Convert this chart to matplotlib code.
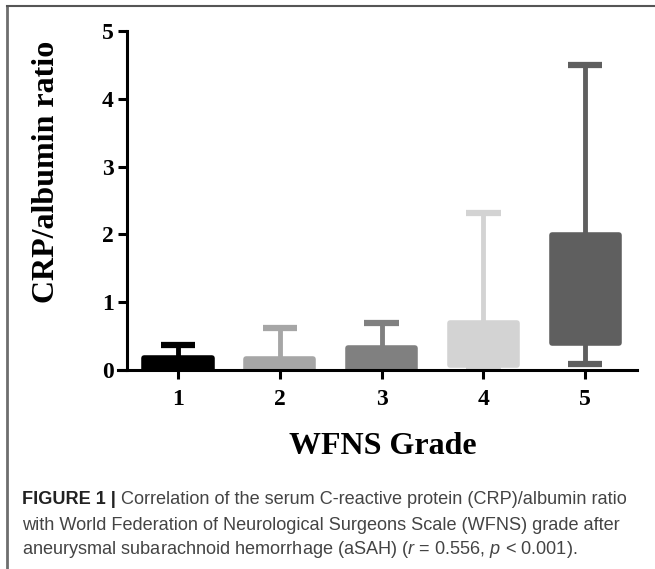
import matplotlib
matplotlib.use("Agg")
import matplotlib.pyplot as plt
from matplotlib.lines import Line2D

# values
grades = [1, 2, 3, 4, 5]
whisker_low = [0.0, 0.0, 0.0, 0.02, 0.09]
q1 = [0.02, 0.01, 0.01, 0.07, 0.40]
median = [0.08, 0.06, 0.12, 0.25, 0.95]
q3 = [0.17, 0.16, 0.32, 0.69, 1.99]
whisker_high = [0.37, 0.62, 0.69, 2.31, 4.50]
colors = ['#000000', '#a6a6a6', '#808080', '#d3d3d3', '#5f5f5f']

plt.rcParams['mathtext.fontset'] = 'custom'
plt.rcParams['mathtext.it'] = 'Liberation Sans:italic'
plt.rcParams['mathtext.rm'] = 'Liberation Sans'

fig = plt.figure(figsize=(6.55, 5.69), dpi=100)
ax = fig.add_axes([118/655, 1-370/569, 519/655, 339/569])

stats = []
for i in range(len(grades)):
	stats.append({'whislo': whisker_low[i], 'q1': q1[i], 'med': median[i],
				  'q3': q3[i], 'whishi': whisker_high[i], 'label': str(grades[i])})

bp = ax.bxp(stats, positions=grades, widths=0.66, capwidths=0.34,
			showfliers=False, patch_artist=True)
for i, c in enumerate(colors):
	box = bp['boxes'][i]
	box.set_facecolor(c)
	box.set_edgecolor(c)
	box.set_linewidth(4)
	box.set_joinstyle('round')
	bp['medians'][i].set_color(c)
	bp['medians'][i].set_linewidth(0)
	for w in bp['whiskers'][2*i:2*i+2]:
		w.set_color(c)
		w.set_linewidth(3.5)
	for cp in bp['caps'][2*i:2*i+2]:
		cp.set_color(c)
		cp.set_linewidth(4.5)
		cp.set_solid_capstyle('butt')

ax.set_xlim(0.41, 5.51)
ax.set_ylim(0, 5)
ax.spines['top'].set_visible(False)
ax.spines['right'].set_visible(False)
ax.spines['left'].set_position(('data', 0.5))
ax.spines['left'].set_linewidth(2.2)
ax.spines['bottom'].set_linewidth(2.2)
ax.spines['left'].set_capstyle('projecting')
ax.set_yticks([0, 1, 2, 3, 4, 5])
ax.set_xticks(grades)
ax.set_xticklabels([str(g) for g in grades])
ax.tick_params(axis='both', direction='out', length=6.5, width=2.2,
			   labelsize=17)
ax.tick_params(axis='x', pad=7)
ax.tick_params(axis='y', pad=3)
for lab in ax.get_xticklabels() + ax.get_yticklabels():
	lab.set_fontfamily('Liberation Serif')
	lab.set_fontweight('bold')

fig.text(47/655, 1-172/569, 'CRP/albumin ratio', rotation=90, ha='center', va='center',
		 fontsize=23, fontweight='bold', family='Liberation Serif')
fig.text(383/655, 1-447/569, 'WFNS Grade', ha='center', va='center',
		 fontsize=23, fontweight='bold', family='Liberation Serif')

# frame lines round the figure
fig.add_artist(Line2D([7/655, 7/655], [0, 1-6/569], color='#6e6e6e', lw=2))
fig.add_artist(Line2D([7/655, 1], [1-6/569, 1-6/569], color='#555555', lw=1.5))

# caption
cap_color = '#444444'
fs = 13.1
x0 = 22/655
t1 = fig.text(x0, 1-500/569, 'FIGURE 1 |', fontsize=fs, fontweight='bold',
			  family='Liberation Sans', color='#222222', va='center')
fig.canvas.draw()
bb = t1.get_window_extent()
fig.text((bb.x1 + 5)/655, 1-500/569,
		 'Correlation of the serum C-reactive protein (CRP)/albumin ratio',
		 fontsize=fs, family='Liberation Sans', color=cap_color, va='center')
fig.text(x0, 1-525/569,
		 'with World Federation of Neurological Surgeons Scale (WFNS) grade after',
		 fontsize=fs, family='Liberation Sans', color=cap_color, va='center')
fig.text(x0, 1-550/569,
		 'aneurysmal subarachnoid hemorrhage (aSAH) ($r$ = 0.556, $p$ < 0.001).',
		 fontsize=fs, family='Liberation Sans', color=cap_color, va='center')

fig.savefig('out.png', dpi=100)
